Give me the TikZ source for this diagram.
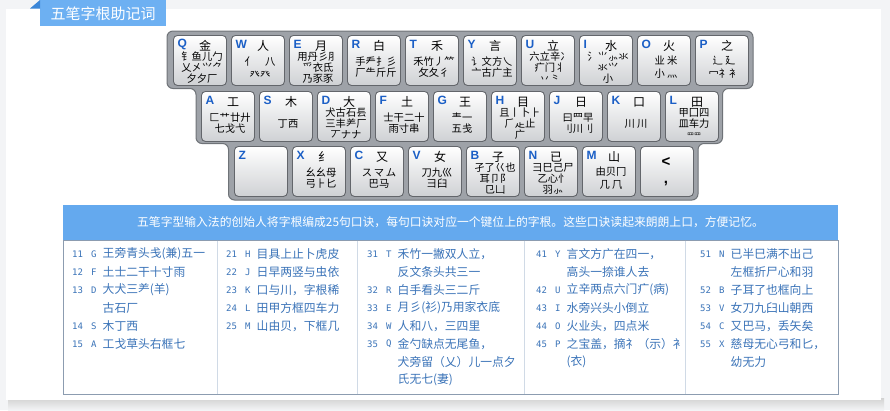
\documentclass[tikz,border=0pt]{standalone}
\usepackage{fontspec}
\setmainfont{Noto Sans CJK SC}
\newfontfamily\cjk{Noto Sans CJK SC}
\newfontfamily\lat{Liberation Sans}
\newfontfamily\monof{DejaVu Sans Mono}
\definecolor{bgc}{HTML}{F3F4F6}
\definecolor{tabblue}{HTML}{6DB0F2}
\definecolor{tabdark}{HTML}{3C87D8}
\definecolor{hdrblue}{HTML}{64A9EE}
\definecolor{txtblue}{HTML}{3A73B8}
\definecolor{tblborder}{HTML}{8C9CB0}
\definecolor{colline}{HTML}{D0DAE6}
\definecolor{framefill}{HTML}{9EA2A8}
\definecolor{frameedge}{HTML}{6F7378}
\definecolor{keyedge}{HTML}{63666B}
\definecolor{keybot}{HTML}{CFD1D4}
\definecolor{keyletc}{HTML}{1B5FC6}
\tikzset{
  keybox/.style={draw=keyedge, line width=0.9pt, rounded corners=4pt, top color=white, bottom color=keybot, minimum width=53pt, minimum height=50pt, anchor=north west, inner sep=0pt},
  keyletter/.style={font=\lat\bfseries\fontsize{12}{12}\selectfont, text=keyletc, inner sep=0pt, anchor=west},
  keymain/.style={font=\cjk\fontsize{12}{12}\selectfont, inner sep=0pt},
  keyrest/.style={font=\cjk\fontsize{10.3}{11}\selectfont, inner sep=0pt, align=center},
  keypunct/.style={font=\lat\bfseries\fontsize{15}{15}\selectfont, inner sep=0pt},
  tnum/.style={font=\monof\fontsize{9}{9}\selectfont, text=txtblue, anchor=west, inner sep=0pt},
  ttext/.style={font=\cjk\fontsize{11.8}{11.8}\selectfont, text=txtblue, anchor=west, inner sep=0pt},
  titletext/.style={font=\cjk\fontsize{15}{15}\selectfont, text=white, inner sep=0pt},
  hdrtext/.style={font=\cjk\fontsize{11.8}{11.8}\selectfont, text=white, inner sep=0pt}
}
\newcommand{\wbkey}[6]{%
  \node[keybox] (k#1) at (#2,#3) {};
  \node[keyletter] (k#1l) at (#2+4.5,#3+9) {#4};
  \node[keymain] (k#1m) at (#2+32,#3+11) {#5};
  \node[keyrest] (k#1r) at (#2+29,#3+32.5) {#6};
}
\newcommand{\tentry}[6]{%
  \node[tnum] (#1n) at (#2,#3) {#4};
  \node[tnum] (#1l) at (#2+19,#3) {#5};
  \node[ttext] (#1t) at (#2+30.5,#3) {#6};
}
\newcommand{\tcont}[4]{\node[ttext] (#1) at (#2+30.5,#3) {#4};}
\begin{document}
\begin{tikzpicture}[x=1pt,y=-1pt]
\useasboundingbox (0,0) rectangle (890,410);
\fill[bgc] (0,0) rectangle (890,410);
\shade[top color=gray!35, bottom color=bgc] (8,398) rectangle (884,410);
\fill[white] (6,9) rectangle (881,400);
% title tab
\fill[tabblue] (40,0) rectangle (166,26);
\fill[tabdark] (30,8.5) -- (40,0) -- (40,8.5) -- cycle;
\node[titletext] (title) at (103,13.5) {五笔字根助记词};
% keyboard frame
\draw[frameedge, fill=framefill, line width=1pt, rounded corners=6pt]
  (167,31) -- (753,31) -- (753,88.5) -- (722.5,88.5) -- (722.5,143.5) -- (698,143.5)
  -- (698,200) -- (228.5,200) -- (228.5,143.5) -- (196,143.5) -- (196,88.5) -- (167,88.5) -- cycle;
% row 1
\wbkey{Q}{173}{35}{Q}{金}{钅鱼儿勹\\乂㐅⺍⺈\\夕夕厂}
\wbkey{W}{231}{35}{W}{人}{亻\quad 八\\[2pt]癶癶}
\wbkey{E}{289}{35}{E}{月}{用丹彡⺼\\⺤衣氐\\乃豕豕}
\wbkey{R}{347}{35}{R}{白}{手龵扌彡\\厂⺧斤斤}
\wbkey{T}{405}{35}{T}{禾}{禾竹丿⺮\\攵夂彳}
\wbkey{Y}{463}{35}{Y}{言}{讠文方乀\\亠古广主}
\wbkey{U}{521}{35}{U}{立}{六立辛冫\\疒门丬\\丷⺀}
\wbkey{I}{579}{35}{I}{水}{氵⺌⺗氺\\氺⺍\\小}
\wbkey{O}{637}{35}{O}{火}{业\ 米\\[2pt]小\ 灬}
\wbkey{P}{695}{35}{P}{之}{辶\ 廴\\[2pt]冖礻衤}
% row 2
\wbkey{A}{201}{91}{A}{工}{匚艹廿廾\\七戈弋}
\wbkey{S}{259}{91}{S}{木}{丁西}
\wbkey{D}{317}{91}{D}{大}{犬古石镸\\三丰⺶厂\\丆ナナ}
\wbkey{F}{375}{91}{F}{土}{士干二十\\雨寸串}
\wbkey{G}{433}{91}{G}{王}{龶一\\五戋}
\wbkey{H}{491}{91}{H}{目}{且丨卜⺊\\⺁龰止\\广}
\wbkey{J}{549}{91}{J}{日}{曰⺫早\\刂川刂}
\wbkey{K}{607}{91}{K}{口}{川\ 川}
\wbkey{L}{665}{91}{L}{田}{甲囗四\\皿车力\\{\fontsize{7}{7}\selectfont 罒罒}}
% row 3
\wbkey{Z}{234}{146}{Z}{}{}
\wbkey{X}{292}{146}{X}{纟}{幺幺⺟\\弓⺊匕}
\wbkey{C}{350}{146}{C}{又}{ス\,マ\,ム\\巴马}
\wbkey{V}{408}{146}{V}{女}{刀九巛\\彐臼}
\wbkey{B}{466}{146}{B}{子}{孑了巜也\\耳卩阝\\㔾凵}
\wbkey{N}{524}{146}{N}{已}{彐巳己尸\\乙心忄\\羽⺗}
\wbkey{M}{582}{146}{M}{山}{由贝冂\\[2pt]几\ ⺇}
\node[keybox] (kLT) at (640,146) {};
\node[keypunct] (kLTa) at (666,162) {<};
\node[keypunct] (kLTb) at (666,184) {,};
% header
\fill[hdrblue] (63,205) rectangle (838,240);
\node[hdrtext] (hdr) at (450.5,222.5) {五笔字型输入法的创始人将字根编成25句口诀，每句口诀对应一个键位上的字根。这些口诀读起来朗朗上口，方便记忆。};
% body
\draw[tblborder, fill=white] (63,240) rectangle (838,394);
\draw[colline] (217,240.5) -- (217,393.5);
\draw[colline] (357,240.5) -- (357,393.5);
\draw[colline] (524,240.5) -- (524,393.5);
\draw[colline] (685,240.5) -- (685,393.5);
% column 1
\tentry{e11}{72}{254}{11}{G}{王旁青头戋(兼)五一}
\tentry{e12}{72}{272}{12}{F}{土士二干十寸雨}
\tentry{e13}{72}{290}{13}{D}{大犬三⺶(羊)}
\tcont{e13b}{72}{308}{古石厂}
\tentry{e14}{72}{326}{14}{S}{木丁西}
\tentry{e15}{72}{344}{15}{A}{工戈草头右框七}
% column 2
\tentry{e21}{226}{254}{21}{H}{目具上止卜虎皮}
\tentry{e22}{226}{272}{22}{J}{日早两竖与虫依}
\tentry{e23}{226}{290}{23}{K}{口与川，字根稀}
\tentry{e24}{226}{308}{24}{L}{田甲方框四车力}
\tentry{e25}{226}{326}{25}{M}{山由贝，下框几}
% column 3
\tentry{e31}{367}{254}{31}{T}{禾竹一撇双人立，}
\tcont{e31b}{367}{272}{反文条头共三一}
\tentry{e32}{367}{290}{32}{R}{白手看头三二斤}
\tentry{e33}{367}{308}{33}{E}{月彡(衫)乃用家衣底}
\tentry{e34}{367}{326}{34}{W}{人和八，三四里}
\tentry{e35}{367}{344}{35}{Q}{金勺缺点无尾鱼，}
\tcont{e35b}{367}{362}{犬旁留（乂）儿一点夕}
\tcont{e35c}{367}{380}{氏无七(妻)}
% column 4
\tentry{e41}{536}{254}{41}{Y}{言文方广在四一，}
\tcont{e41b}{536}{272}{高头一捺谁人去}
\tentry{e42}{536}{290}{42}{U}{立辛两点六门疒(病)}
\tentry{e43}{536}{308}{43}{I}{水旁兴头小倒立}
\tentry{e44}{536}{326}{44}{O}{火业头，四点米}
\tentry{e45}{536}{344}{45}{P}{之宝盖，摘礻（示）衤}
\tcont{e45b}{536}{362}{(衣)}
% column 5
\tentry{e51}{700}{254}{51}{N}{已半巳满不出己}
\tcont{e51b}{700}{272}{左框折尸心和羽}
\tentry{e52}{700}{290}{52}{B}{子耳了也框向上}
\tentry{e53}{700}{308}{53}{V}{女刀九臼山朝西}
\tentry{e54}{700}{326}{54}{C}{又巴马，丢矢矣}
\tentry{e55}{700}{344}{55}{X}{慈母无心弓和匕，}
\tcont{e55b}{700}{362}{幼无力}
\end{tikzpicture}
\end{document}
